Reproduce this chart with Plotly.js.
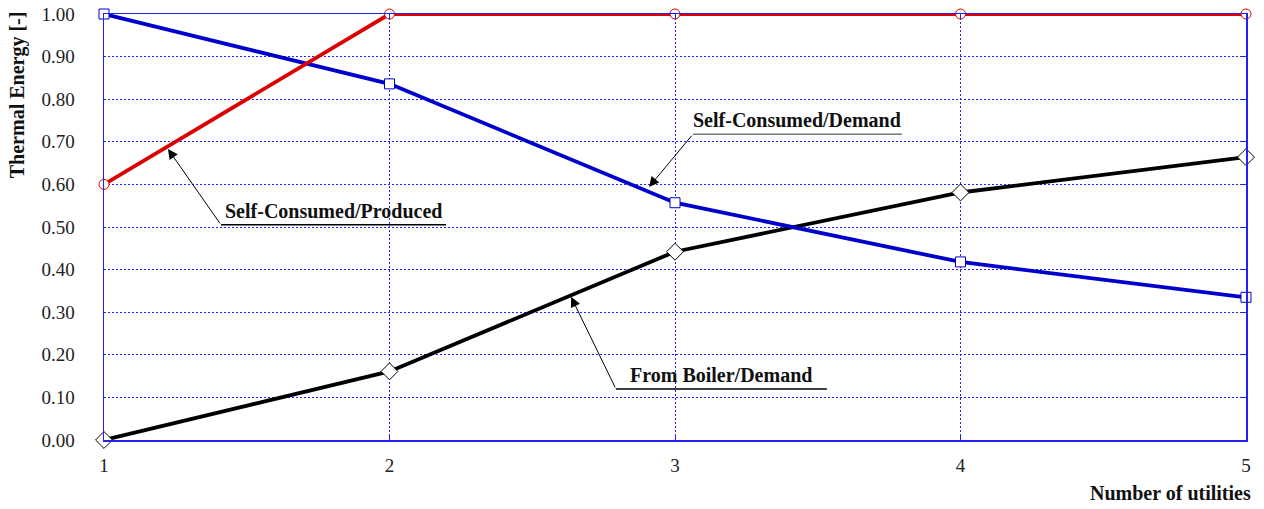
<!DOCTYPE html>
<html>
<head>
<meta charset="utf-8">
<script src="https://cdn.plot.ly/plotly-3.0.1.min.js"></script>
<style>html,body{margin:0;padding:0;background:#fff;}#chart{width:1264px;height:509px;}</style>
</head>
<body>
<div id="chart"></div>
<script>
const utilities = [1, 2, 3, 4, 5];
const selfConsumedProduced = [0.60, 1.00, 1.00, 1.00, 1.00];
const selfConsumedDemand = [1.00, 0.836, 0.557, 0.418, 0.335];
const fromBoilerDemand = [0.00, 0.161, 0.442, 0.581, 0.664];
const yTicks = [0, 0.1, 0.2, 0.3, 0.4, 0.5, 0.6, 0.7, 0.8, 0.9, 1.0];
const xTicks = [1, 2, 3, 4, 5];

const FONT = "Liberation Serif, Times New Roman, serif";
const BLUE = "#2222ee";

const traces = [
  {x: utilities, y: fromBoilerDemand, mode: "lines+markers", name: "From Boiler/Demand", cliponaxis: false,
   line: {color: "#000000", width: 3.8},
   marker: {symbol: "diamond", size: 13, color: "#ffffff", line: {color: "#000000", width: 1}}},
  {x: utilities, y: selfConsumedDemand, mode: "lines+markers", name: "Self-Consumed/Demand", cliponaxis: false,
   line: {color: "#0000cc", width: 3.8},
   marker: {symbol: "square", size: 10, color: "#ffffff", line: {color: "#0000cc", width: 1}}},
  {x: utilities, y: selfConsumedProduced, mode: "lines+markers", name: "Self-Consumed/Produced", cliponaxis: false,
   line: {color: "#dd0000", width: 3.8},
   marker: {symbol: "circle", size: 10, color: "#ffffff", line: {color: "#dd0000", width: 1}}}
];

function callout(text, hx, hy, tx, ty, ex) {
  return [
    {x: hx, y: hy, ax: tx, ay: ty, xref: "x", yref: "y", axref: "x", ayref: "y",
     text: "", showarrow: true, arrowhead: 2, arrowsize: 2, arrowwidth: 1, arrowcolor: "#000"},
    {x: (tx + ex) / 2, y: ty, xref: "x", yref: "y", text: "<b>" + text + "</b>",
     showarrow: false, yanchor: "bottom", yshift: 1,
     font: {family: FONT, size: 20, color: "#111"}}
  ];
}

const ann = [].concat(
  callout("Self-Consumed/Produced", 1.224, 0.683, 1.41, 0.505, 2.198),
  callout("From Boiler/Demand", 2.636, 0.336, 2.793, 0.12, 3.532),
  callout("Self-Consumed/Demand", 2.909, 0.594, 3.063, 0.718, 3.795),
  [
    {xref: "paper", yref: "paper", x: 1.006, y: 0, yshift: -53, xanchor: "right", yanchor: "middle",
     text: "<b>Number of utilities</b>", showarrow: false, font: {family: FONT, size: 20, color: "#111"}},
    {xref: "paper", yref: "paper", x: 0, xshift: -87, y: 1.01, xanchor: "center", yanchor: "top",
     textangle: -90, text: "<b>Thermal Energy [-]</b>", showarrow: false,
     font: {family: FONT, size: 20, color: "#111"}}
  ]
);

const shapes = [
  {type: "line", xref: "x", yref: "y", x0: 1.41, x1: 2.198, y0: 0.505, y1: 0.505, line: {color: "#000", width: 1.5}},
  {type: "line", xref: "x", yref: "y", x0: 2.793, x1: 3.532, y0: 0.12, y1: 0.12, line: {color: "#000", width: 1.5}},
  {type: "line", xref: "x", yref: "y", x0: 3.063, x1: 3.795, y0: 0.718, y1: 0.718, line: {color: "#777", width: 1.5}}
];

const layout = {
  width: 1264, height: 509,
  margin: {l: 104, r: 18, t: 14, b: 69},
  paper_bgcolor: "#fff", plot_bgcolor: "#fff",
  showlegend: false,
  font: {family: FONT, size: 19, color: "#222"},
  xaxis: {range: [1, 5], tickvals: xTicks, ticktext: xTicks.map(String),
    showgrid: true, gridcolor: BLUE, griddash: "2px,2px", gridwidth: 1,
    showline: true, linecolor: BLUE, linewidth: 1.5, mirror: "ticks",
    ticks: "inside", ticklen: 6, tickcolor: BLUE, zeroline: false,
    ticklabelstandoff: 8, tickfont: {family: FONT, size: 19, color: "#222"}},
  yaxis: {range: [0, 1], tickvals: yTicks, ticktext: yTicks.map(v => v.toFixed(2)),
    showgrid: true, gridcolor: BLUE, griddash: "2px,2px", gridwidth: 1,
    showline: true, linecolor: BLUE, linewidth: 1.5, mirror: true,
    ticks: "outside", ticklen: 24, tickcolor: "rgba(0,0,0,0)", zeroline: false,
    tickfont: {family: FONT, size: 19, color: "#222"}},
  yaxis2: {range: [0, 1], tickvals: yTicks, overlaying: "y", side: "right",
    showticklabels: false, showgrid: false, showline: false, zeroline: false,
    ticks: "inside", ticklen: 6, tickcolor: BLUE},
  annotations: ann,
  shapes: shapes
};

traces.push({x: [1], y: [0], yaxis: "y2", mode: "markers", marker: {opacity: 0}, hoverinfo: "skip"});

Plotly.newPlot("chart", traces, layout, {displayModeBar: false, staticPlot: true});
</script>
</body>
</html>
